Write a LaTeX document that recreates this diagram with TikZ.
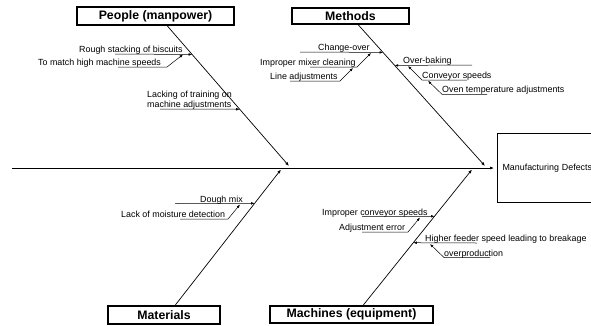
\documentclass[tikz,border=0pt]{standalone}
\usepackage{fontspec}
\setmainfont{Liberation Sans}
\usetikzlibrary{arrows.meta,calc}
\begin{document}
\begin{tikzpicture}[x=1pt,y=-1pt,
  cat/.style={draw,line width=1.1pt,inner sep=0pt,font=\fontsize{12.3}{14}\selectfont\bfseries},
  lbl/.style={anchor=base west,inner sep=0pt,font=\fontsize{8.9}{10}\selectfont},
  bone/.style={line width=0.7pt,-{Latex[length=4pt,width=3pt]}},
  sub/.style={line width=0.5pt,-{Latex[length=3.5pt,width=2.6pt]}}]
\clip (0,0) rectangle (591,325);
\fill[white] (0,0) rectangle (591,325);
% category boxes
\node[cat,minimum width=157pt,minimum height=18pt] (people) at (155.5,16) {People (manpower)};
\node[cat,minimum width=117pt,minimum height=16pt] (methods) at (350.5,16) {Methods};
\node[cat,minimum width=112pt,minimum height=18pt] (materials) at (164,315) {Materials};
\node[cat,minimum width=163pt,minimum height=17pt] (machines) at (351.5,314.5) {Machines (equipment)};
\node[draw,line width=1.1pt,anchor=north west,minimum height=69pt,text width=93pt,inner xsep=5pt,inner ysep=0pt,align=left,font=\fontsize{8.9}{10}\selectfont] (defects) at (497,133) {Manufacturing Defects};
% spine
\coordinate (sp0) at (12,168);
\draw[bone,shorten >=3pt] (sp0) -- (sp0 -| defects.west);
% bones
\coordinate (pA) at ([xshift=11.5pt]people.south);
\coordinate (pE) at (289,166);
\coordinate (mA) at ([xshift=7.5pt]methods.south);
\coordinate (mE) at (485,166);
\coordinate (tA) at ([xshift=11pt]materials.north);
\coordinate (tE) at (281,169.5);
\coordinate (cA) at ([xshift=11.5pt]machines.north);
\coordinate (cE) at (472,169.5);
\draw[bone] (pA) -- (pE);
\draw[bone] (mA) -- (mE);
\draw[bone] (tA) -- (tE);
\draw[bone] (cA) -- (cE);
% People
\node[lbl] (t1) at (79,52.3) {Rough stacking of biscuits};
\coordinate (t1a) at (115,54);
\coordinate (t1b) at ($(pA)!0.206!(pE)$);
\draw[sub] (t1a) -- (t1b);
\node[lbl] (t2) at (38,65.3) {To match high machine speeds};
\coordinate (t2a) at (118,67);
\coordinate (t2b) at (167,67);
\coordinate (t2c) at (183,54.5);
\draw[sub] (t2a) -- (t2b) -- (t2c);
\node[lbl,align=left] (t3) at (147,107.5) {Lacking of training on\\machine adjustments};
\coordinate (t3a) at (160,109);
\coordinate (t3b) at ($(pA)!0.596!(pE)$);
\draw[sub] (t3a) -- (t3b);
% Methods
\node[lbl] (t4) at (318,50.5) {Change-over};
\coordinate (t4a) at (300,52);
\coordinate (t4b) at ($(mA)!0.197!(mE)$);
\draw[sub] (t4a) -- (t4b);
\node[lbl] (t5) at (260,65.5) {Improper mixer cleaning};
\coordinate (t5a) at (310,67);
\coordinate (t5b) at (357,67);
\coordinate (t5c) at (371,53);
\draw[sub] (t5a) -- (t5b) -- (t5c);
\node[lbl] (t6) at (270,79.8) {Line adjustments};
\coordinate (t6a) at (290,81);
\coordinate (t6b) at (340,81);
\coordinate (t6c) at (353,68);
\draw[sub] (t6a) -- (t6b) -- (t6c);
\node[lbl] (t7) at (403,63.5) {Over-baking};
\coordinate (t7a) at (472,65);
\coordinate (t7b) at ($(mA)!0.289!(mE)$);
\draw[sub] (t7a) -- (t7b);
\node[lbl] (t8) at (422,78) {Conveyor speeds};
\coordinate (t8a) at (467,80);
\coordinate (t8b) at (422,80);
\coordinate (t8c) at (408,66);
\draw[sub] (t8a) -- (t8b) -- (t8c);
\node[lbl] (t9) at (442,92.7) {Oven temperature adjustments};
\coordinate (t9a) at (487,94.3);
\coordinate (t9b) at (442,94.3);
\coordinate (t9c) at (428,80.8);
\draw[sub] (t9a) -- (t9b) -- (t9c);
% Materials
\node[lbl] (t10) at (200,202) {Dough mix};
\coordinate (t10a) at (175,203.5);
\coordinate (t10b) at ($(tA)!0.751!(tE)$);
\draw[sub] (t10a) -- (t10b);
\node[lbl] (t11) at (121,217) {Lack of moisture detection};
\coordinate (t11a) at (180,219);
\coordinate (t11b) at (228,219);
\coordinate (t11c) at (240,204.5);
\draw[sub] (t11a) -- (t11b) -- (t11c);
% Machines
\node[lbl] (t12) at (322,215) {Improper conveyor speeds};
\coordinate (t12a) at (362,216.5);
\coordinate (t12b) at ($(cA)!0.656!(cE)$);
\draw[sub] (t12a) -- (t12b);
\node[lbl] (t13) at (339,230.5) {Adjustment error};
\coordinate (t13a) at (362,232);
\coordinate (t13b) at (408,232);
\coordinate (t13c) at (420,217.5);
\draw[sub] (t13a) -- (t13b) -- (t13c);
\node[lbl] (t14) at (425,241) {Higher feeder speed leading to breakage};
\coordinate (t14a) at (477,243);
\coordinate (t14b) at ($(cA)!0.4615!(cE)$);
\draw[sub] (t14a) -- (t14b);
\node[lbl] (t15) at (444,256) {overproduction};
\coordinate (t15a) at (490,257.5);
\coordinate (t15b) at (444,257.5);
\coordinate (t15c) at (430,244);
\draw[sub] (t15a) -- (t15b) -- (t15c);
\end{tikzpicture}
\end{document}
